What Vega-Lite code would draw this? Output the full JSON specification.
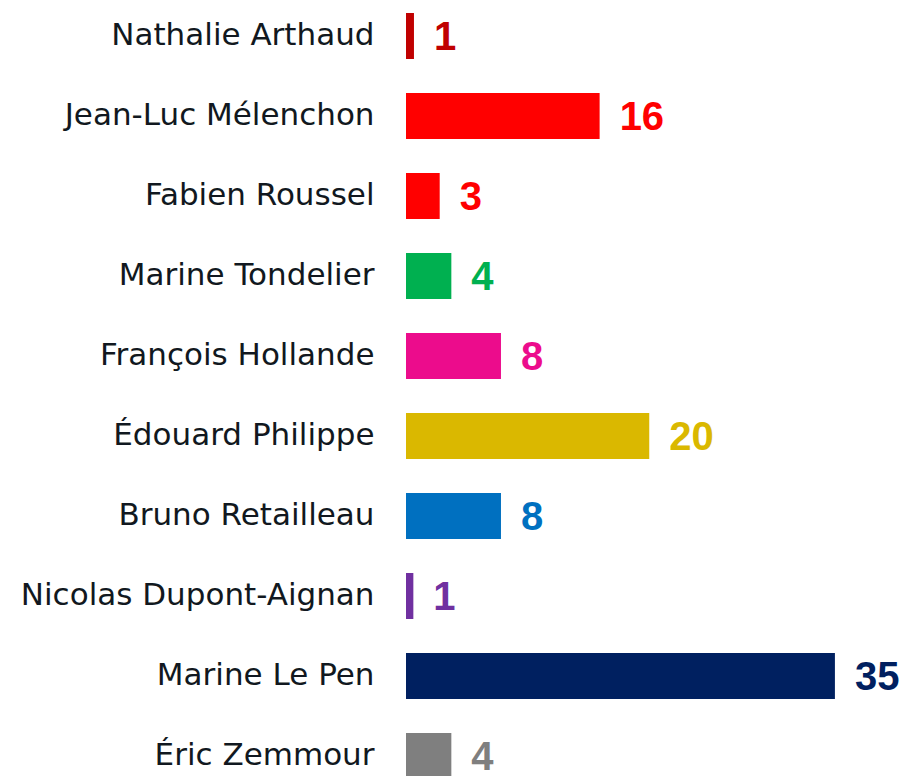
{
  "$schema": "https://vega.github.io/schema/vega-lite/v6.json",
  "autosize": {"type": "none"},
  "padding": {"left": 406, "top": 0, "right": 0, "bottom": 0},
  "width": 500,
  "height": 792,
  "background": "white",
  "config": {"view": {"stroke": null}},
  "data": {
    "values": [
      {"name": "Nathalie Arthaud", "value": 0.65, "label": "1", "color": "#C00000"},
      {"name": "Jean-Luc Mélenchon", "value": 15.8, "label": "16", "color": "#FF0000"},
      {"name": "Fabien Roussel", "value": 2.75, "label": "3", "color": "#FF0000"},
      {"name": "Marine Tondelier", "value": 3.7, "label": "4", "color": "#00B050"},
      {"name": "François Hollande", "value": 7.75, "label": "8", "color": "#EC0C8C"},
      {"name": "Édouard Philippe", "value": 19.85, "label": "20", "color": "#DAB800"},
      {"name": "Bruno Retailleau", "value": 7.75, "label": "8", "color": "#0070C0"},
      {"name": "Nicolas Dupont-Aignan", "value": 0.6, "label": "1", "color": "#7030A0"},
      {"name": "Marine Le Pen", "value": 35, "label": "35", "color": "#002060"},
      {"name": "Éric Zemmour", "value": 3.7, "label": "4", "color": "#7F7F7F"}
    ]
  },
  "encoding": {
    "y": {
      "field": "name",
      "type": "nominal",
      "sort": null,
      "scale": {"paddingInner": 0.425, "paddingOuter": 0.1625},
      "axis": {
        "title": null,
        "domain": false,
        "ticks": false,
        "labelPadding": 32,
        "labelFont": "DejaVu Sans",
        "labelFontSize": 31,
        "labelColor": "#111820",
        "labelLimit": 500
      }
    },
    "x": {
      "field": "value",
      "type": "quantitative",
      "scale": {"domain": [0, 40.8]},
      "axis": null
    }
  },
  "layer": [
    {
      "mark": {"type": "bar"},
      "encoding": {
        "color": {"field": "color", "type": "nominal", "scale": null, "legend": null}
      }
    },
    {
      "mark": {"type": "text", "align": "left", "baseline": "middle", "dx": 20, "dy": 2, "font": "Liberation Sans", "fontWeight": "bold", "fontSize": 40},
      "encoding": {
        "text": {"field": "label"},
        "color": {"field": "color", "type": "nominal", "scale": null, "legend": null}
      }
    }
  ]
}
